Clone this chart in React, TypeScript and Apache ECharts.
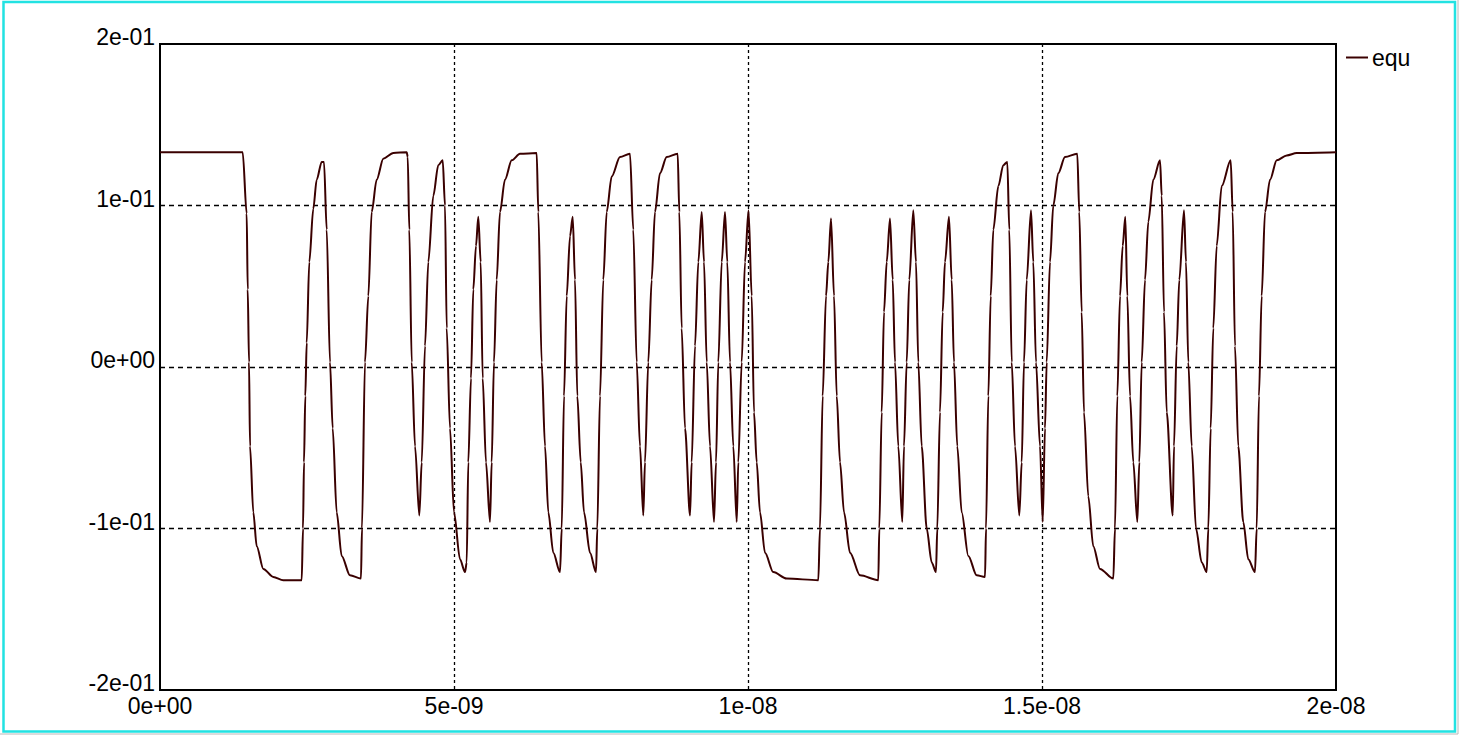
import React, { useEffect, useRef } from "react";
import * as echarts from "echarts";

// time in nanoseconds
const timeNs: number[] = [
  0, 1.406, 1.474, 1.492, 1.514, 1.531, 1.587, 1.645, 1.757, 1.927, 2.097, 2.41,
  2.432, 2.449, 2.471, 2.495, 2.539, 2.607, 2.665, 2.75, 2.789,
  2.835, 2.891, 2.937, 3.005, 3.09, 3.231, 3.418,
  3.435, 3.486, 3.543, 3.6, 3.685, 3.798, 3.968, 4.196, 4.213,
  4.24, 4.281, 4.337, 4.41,
  4.451, 4.507, 4.563, 4.648, 4.733, 4.808,
  4.847, 4.876, 4.932, 5.0, 5.102, 5.187,
  5.216, 5.243, 5.289, 5.328, 5.374, 5.413,
  5.454, 5.488, 5.544, 5.612,
  5.641, 5.68, 5.726, 5.782, 5.867, 5.981, 6.122, 6.406,
  6.434, 6.491, 6.548, 6.604, 6.689, 6.803,
  6.832, 6.871, 6.917, 6.973, 7.019,
  7.058, 7.097, 7.155, 7.211, 7.313, 7.415,
  7.437, 7.483, 7.539, 7.597, 7.682, 7.823, 7.993,
  8.049, 8.107, 8.163, 8.219,
  8.248, 8.304, 8.362, 8.418, 8.503, 8.617, 8.804,
  8.832, 8.872, 8.929, 9.014,
  9.042, 9.099, 9.155, 9.213,
  9.252, 9.298, 9.354, 9.422,
  9.456, 9.495, 9.553, 9.609,
  9.648, 9.694, 9.75, 9.808,
  9.835, 9.893, 9.949, 10.009,
  10.063, 10.102, 10.148, 10.204, 10.289, 10.43, 10.658, 11.196,
  11.224, 11.27, 11.327, 11.366, 11.412,
  11.463, 11.509, 11.565, 11.633, 11.735, 11.905, 12.216,
  12.233, 12.274, 12.313, 12.359, 12.415,
  12.461, 12.5, 12.556, 12.624,
  12.653, 12.699, 12.743, 12.811,
  12.857, 12.896, 12.954, 13.039, 13.124, 13.197,
  13.219, 13.265, 13.311, 13.35, 13.418,
  13.464, 13.503, 13.559, 13.634, 13.747, 13.889, 14.031,
  14.048, 14.087, 14.128, 14.172, 14.257, 14.342, 14.41,
  14.444, 14.485, 14.541, 14.614,
  14.655, 14.694, 14.74, 14.813,
  14.852, 14.898, 14.966, 15.012,
  15.051, 15.08, 15.136, 15.192, 15.277, 15.391, 15.6,
  15.634, 15.675, 15.714, 15.787, 15.872, 15.986, 16.213,
  16.241, 16.281, 16.327, 16.372, 16.417,
  16.451, 16.497, 16.553, 16.621,
  16.655, 16.696, 16.752, 16.808, 16.893, 17.007,
  17.036, 17.075, 17.121, 17.223,
  17.245, 17.291, 17.335, 17.415,
  17.449, 17.488, 17.546, 17.619, 17.716, 17.801,
  17.828, 17.869, 17.913, 17.971, 18.056, 18.209,
  18.243, 18.282, 18.338, 18.423, 18.508, 18.622,
  18.651, 18.69, 18.736, 18.793, 18.878, 18.992, 19.162, 19.332, 20.0,
];

const equValues: number[] = [
  0.133, 0.133, 0.095, 0.048, 0.003, -0.049, -0.09, -0.111, -0.125, -0.13, -0.132, -0.132,
  -0.1, -0.059, -0.018, 0.015, 0.065, 0.098, 0.116, 0.127, 0.127,
  0.085, 0.003, -0.038, -0.09, -0.117, -0.129, -0.131,
  -0.1, 0.003, 0.044, 0.096, 0.116, 0.129, 0.1325, 0.133, 0.13,
  0.085, 0.003, -0.049, -0.092,
  -0.059, 0.013, 0.065, 0.106, 0.125, 0.128,
  0.1, 0.024, -0.038, -0.09, -0.119, -0.127,
  -0.121, -0.059, -0.007, 0.048, 0.075, 0.093,
  0.065, -0.007, -0.059, -0.096,
  -0.059, 0.003, 0.054, 0.096, 0.116, 0.128, 0.132, 0.1325,
  0.096, 0.003, -0.049, -0.09, -0.115, -0.127,
  -0.1, -0.018, 0.044, 0.081, 0.093,
  0.054, -0.018, -0.059, -0.09, -0.115, -0.127,
  -0.1, -0.018, 0.054, 0.096, 0.118, 0.13, 0.132,
  0.085, 0.003, -0.049, -0.092,
  -0.059, 0.003, 0.054, 0.096, 0.12, 0.13, 0.132,
  0.096, 0.024, -0.038, -0.092,
  -0.059, 0.013, 0.065, 0.096,
  0.065, 0.003, -0.049, -0.096,
  -0.059, 0.003, 0.065, 0.096,
  0.065, 0.003, -0.049, -0.096,
  -0.059, 0.003, 0.065, 0.097,
  0.044, -0.028, -0.059, -0.09, -0.115, -0.127, -0.131, -0.132,
  -0.1, -0.018, 0.044, 0.065, 0.092,
  0.044, -0.018, -0.059, -0.09, -0.115, -0.129, -0.132,
  -0.1, -0.028, 0.034, 0.065, 0.092,
  0.054, 0.003, -0.049, -0.096,
  -0.049, 0.003, 0.054, 0.097,
  0.065, 0.003, -0.049, -0.1, -0.121, -0.127,
  -0.1, -0.028, 0.034, 0.065, 0.093,
  0.054, 0.003, -0.049, -0.09, -0.117, -0.129, -0.13,
  -0.1, -0.018, 0.044, 0.085, 0.112, 0.125, 0.127,
  0.085, 0.003, -0.049, -0.092,
  -0.059, 0.003, 0.054, 0.097,
  0.065, 0.003, -0.049, -0.096,
  -0.038, 0.003, 0.065, 0.1, 0.12, 0.13, 0.132,
  0.096, 0.034, -0.028, -0.08, -0.111, -0.125, -0.131,
  -0.1, -0.018, 0.044, 0.075, 0.093,
  0.044, -0.018, -0.059, -0.096,
  -0.059, 0.003, 0.054, 0.09, 0.116, 0.128,
  0.106, 0.034, -0.028, -0.092,
  -0.049, 0.013, 0.054, 0.097,
  0.065, 0.003, -0.049, -0.1, -0.121, -0.127,
  -0.1, -0.038, 0.024, 0.075, 0.112, 0.128,
  0.096, 0.013, -0.049, -0.096, -0.119, -0.127,
  -0.1, -0.018, 0.044, 0.096, 0.116, 0.128, 0.131, 0.1325, 0.133,
];

const seriesName = "equ";
const xMin = 0;
const xMax = 2e-8;
const xStep = 5e-9;
const yMin = -0.2;
const yMax = 0.2;
const yStep = 0.1;

function fmtExp(v: number): string {
  if (Math.abs(v) < 1e-30) return "0e+00";
  const s = Number(v.toPrecision(6)).toExponential();
  return s.replace(/e([+-])(\d)$/, (_m, sg, d) => "e" + sg + "0" + d);
}

export default function App() {
  const ref = useRef<HTMLDivElement>(null);
  useEffect(() => {
    if (!ref.current) return;
    const chart = echarts.init(ref.current, undefined, { renderer: "svg" });
    const data = timeNs.map((t, i) => [t * 1e-9, equValues[i]]);
    const font = "'Liberation Sans', Arial, sans-serif";
    chart.setOption({
      animation: false,
      backgroundColor: "#ffffff",
      textStyle: { fontFamily: font },
      grid: {
        left: 160,
        top: 44,
        right: 124,
        bottom: 45,
        show: true,
        borderColor: "#000000",
        borderWidth: 2,
        backgroundColor: "transparent",
      },
      legend: {
        show: true,
        left: 1346,
        top: 46,
        padding: 0,
        itemWidth: 22,
        itemHeight: 2,
        itemGap: 4,
        icon: "rect",
        textStyle: { fontSize: 23, color: "#000", fontFamily: font, lineHeight: 23, padding: [0, 0, 0, -1] },
        data: [seriesName],
      },
      xAxis: {
        type: "value",
        min: xMin,
        max: xMax,
        interval: xStep,
        axisLine: { show: false },
        axisTick: { show: false },
        axisLabel: {
          fontSize: 23,
          color: "#000",
          fontFamily: font,
          margin: 4,
          lineHeight: 23,
          formatter: (v: number) => fmtExp(v),
        },
        splitLine: {
          show: true,
          showMinLine: false,
          showMaxLine: false,
          lineStyle: { color: "#000", width: 1.3, type: [3, 3] },
        },
      },
      yAxis: {
        type: "value",
        min: yMin,
        max: yMax,
        interval: yStep,
        axisLine: { show: false },
        axisTick: { show: false },
        axisLabel: {
          fontSize: 23,
          color: "#000",
          fontFamily: font,
          margin: 5,
          lineHeight: 14,
          verticalAlign: "bottom",
          formatter: (v: number) => fmtExp(v),
        },
        splitLine: {
          show: true,
          showMinLine: false,
          showMaxLine: false,
          lineStyle: { color: "#000", width: 1.3, type: [5, 4] },
        },
      },
      graphic: [
        {
          type: "rect",
          shape: { x: 3.5, y: 2, width: 1451.5, height: 729.5 },
          style: { fill: "none", stroke: "#22e2e2", lineWidth: 2.5 },
          silent: true,
        },
        {
          type: "line",
          shape: { x1: 0, y1: 734, x2: 1458, y2: 734 },
          style: { stroke: "#b8b8b8", lineWidth: 1 },
          silent: true,
        },
        {
          type: "line",
          shape: { x1: 1458, y1: 0, x2: 1458, y2: 734 },
          style: { stroke: "#b8b8b8", lineWidth: 1 },
          silent: true,
        },
      ],
      series: [
        {
          name: seriesName,
          type: "line",
          data,
          showSymbol: false,
          symbol: "none",
          smooth: 0.3,
          smoothMonotone: "x",
          color: "#3a0000",
          lineStyle: { color: "#3a0000", width: 2 },
          z: 3,
        },
      ],
    });
    return () => chart.dispose();
  }, []);
  return (
    <div
      ref={ref}
      style={{ position: "absolute", left: 0, top: 0, width: 1460, height: 735, background: "#fff" }}
    />
  );
}
